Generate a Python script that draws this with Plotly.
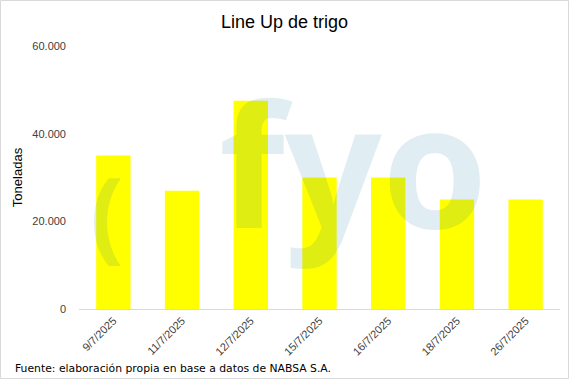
import plotly.graph_objects as go

fechas = ["9/7/2025", "11/7/2025", "12/7/2025", "15/7/2025", "16/7/2025", "18/7/2025", "26/7/2025"]
toneladas = [35000, 27000, 47500, 30000, 30000, 25000, 25000]
y_ticks = [0, 20000, 40000, 60000]
y_tick_labels = ["0", "20.000", "40.000", "60.000"]

W, H = 569, 379
L, R, T, B = 79, 9, 46, 70
pw, ph = W - L - R, H - T - B

def px(x):
    return (x - L) / pw

def py(y):
    return (H - B - y) / ph

fig = go.Figure()
fig.add_trace(go.Bar(x=fechas, y=toneladas, marker=dict(color="#FFFF00", line=dict(width=0)),
                     hoverinfo="skip"))

wm = "rgba(0,110,160,0.12)"
annotations = [
    dict(text="Line Up de trigo", x=px(284), y=py(22), xref="paper", yref="paper",
         showarrow=False, font=dict(family="Liberation Sans Narrow, Arial Narrow, Liberation Sans, sans-serif", size=18, color="#000000"),
         xanchor="center", yanchor="middle"),
    dict(text="Fuente: elaboración propia en base a datos de NABSA S.A.", x=px(13), y=py(368),
         xref="paper", yref="paper", showarrow=False,
         font=dict(family="DejaVu Sans, sans-serif", size=10.8, color="#000000"),
         xanchor="left", yanchor="middle"),
    # watermark
    dict(text="<b>(</b>", x=px(107), y=py(211), xref="paper", yref="paper", showarrow=False,
         font=dict(family="Noto Sans, sans-serif", size=100, color=wm),
         xanchor="center", yanchor="middle"),
    dict(text="<b>fyo</b>", x=px(353), y=py(162), xref="paper", yref="paper", showarrow=False,
         font=dict(family="Noto Sans, sans-serif", size=170, color=wm),
         xanchor="center", yanchor="middle"),
]

shapes = [
    dict(type="rect", xref="paper", yref="paper", x0=px(0.5), x1=px(568.5), y0=py(378.5), y1=py(0.5),
         line=dict(color="#d9d9d9", width=1), fillcolor="rgba(0,0,0,0)", layer="above"),
]

fig.update_layout(
    width=W, height=H,
    margin=dict(l=L, r=R, t=T, b=B, pad=0),
    paper_bgcolor="white", plot_bgcolor="white",
    separators=",.",
    bargap=0.5,
    showlegend=False,
    annotations=annotations,
    shapes=shapes,
    font=dict(family="Liberation Sans, sans-serif", size=11, color="#404040"),
    xaxis=dict(type="category", range=[-0.5, 6.5], showgrid=False, showline=True,
               linecolor="#d9d9d9", linewidth=1, ticks="", tickangle=-45,
               tickfont=dict(family="Liberation Sans Narrow, Liberation Sans, sans-serif", size=11, color="#404040")),
    yaxis=dict(range=[0, 60000], tickvals=y_ticks, ticktext=y_tick_labels, showgrid=False,
               showline=False, zeroline=False, ticks="", ticklabelstandoff=12,
               tickfont=dict(family="Liberation Sans, sans-serif", size=11, color="#404040"),
               title=dict(text="Toneladas", standoff=6,
                          font=dict(family="Liberation Sans, sans-serif", size=13, color="#000000"))),
)

fig.write_html("out.html", config={"displayModeBar": False, "staticPlot": True},
               post_script="document.body.style.margin='0';document.body.style.overflow='hidden';")
